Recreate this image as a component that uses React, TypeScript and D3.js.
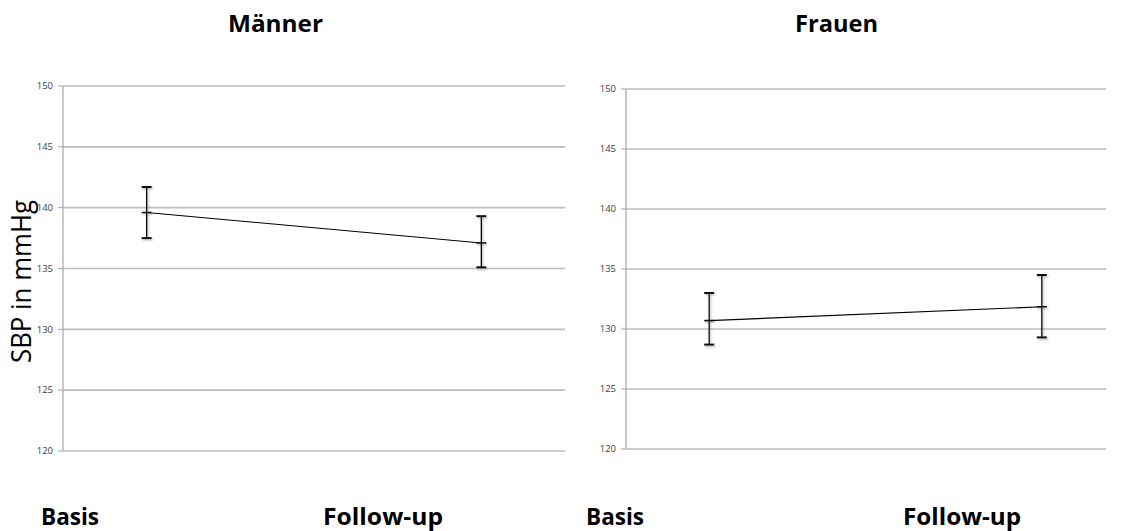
import React from "react";
import * as d3 from "d3";

// ---- data ----
const categories = ["Basis", "Follow-up"];
const panelTitles = ["Männer", "Frauen"];
const menMean = [139.6, 137.1];
const menUpper = [141.7, 139.3];
const menLower = [137.5, 135.1];
const womenMean = [130.7, 131.85];
const womenUpper = [133.0, 134.5];
const womenLower = [128.7, 129.3];
const yTicks = [120, 125, 130, 135, 140, 145, 150];
const yLabel = "SBP in mmHg";

const W = 1121;
const H = 531;

type Panel = {
  title: string;
  mean: number[];
  upper: number[];
  lower: number[];
  left: number;
  right: number;
  gridRight: number;
  top: number;
  bottom: number;
  titleX: number;
  titleLen: number;
  catX: number[];
  catLen: number[];
};

const panels: Panel[] = [
  {
    title: panelTitles[0],
    mean: menMean,
    upper: menUpper,
    lower: menLower,
    left: 63,
    right: 565,
    gridRight: 565,
    top: 86,
    bottom: 451,
    titleX: 228,
    titleLen: 95,
    catX: [41, 323],
    catLen: [58, 120],
  },
  {
    title: panelTitles[1],
    mean: womenMean,
    upper: womenUpper,
    lower: womenLower,
    left: 626,
    right: 1125,
    gridRight: 1106,
    top: 89,
    bottom: 449,
    titleX: 795,
    titleLen: 83,
    catX: [586, 903],
    catLen: [58, 118],
  },
];

const titleFont = "'Open Sans', 'DejaVu Sans', sans-serif";

function PanelView({ p }: { p: Panel }) {
  const y = d3.scaleLinear().domain([120, 150]).range([p.bottom, p.top]);
  const x = d3.scalePoint<string>().domain(categories).range([p.left, p.right]).padding(0.25);
  const line = d3
    .line<number>()
    .x((_, i) => x(categories[i]) as number)
    .y((d) => y(d));
  const capW = 10;
  return (
    <g>
      <text
        x={p.titleX}
        y={32}
        fontFamily={titleFont}
        fontWeight="bold"
        fontSize={23}
        textLength={p.titleLen}
        lengthAdjust="spacingAndGlyphs"
        fill="#000"
      >
        {p.title}
      </text>
      {yTicks.map((t) => (
        <g key={t}>
          <line x1={p.left} x2={p.gridRight} y1={y(t)} y2={y(t)} stroke="#bdbdbd" strokeWidth={1.6} />
          <line x1={p.left - 5} x2={p.left} y1={y(t)} y2={y(t)} stroke="#a6a6a6" strokeWidth={1} />
          <text
            x={p.left - 10}
            y={y(t)}
            dy="0.35em"
            textAnchor="end"
            fontFamily={titleFont}
            fontSize={9.5}
            fill="#404040"
          >
            {t}
          </text>
        </g>
      ))}
      <line x1={p.left} x2={p.left} y1={p.top} y2={p.bottom} stroke="#a6a6a6" strokeWidth={1.2} />
      <path d={line(p.mean) || ""} fill="none" stroke="#000" strokeWidth={1.1} />
      <g filter="url(#shadow)">
        {categories.map((c, i) => {
          const cx = x(c) as number;
          return (
            <g key={c}>
              <line x1={cx} x2={cx} y1={y(p.upper[i])} y2={y(p.lower[i])} stroke="#111" strokeWidth={1.4} />
              <line x1={cx - capW / 2} x2={cx + capW / 2} y1={y(p.upper[i])} y2={y(p.upper[i])} stroke="#111" strokeWidth={2} />
              <line x1={cx - capW / 2} x2={cx + capW / 2} y1={y(p.lower[i])} y2={y(p.lower[i])} stroke="#111" strokeWidth={2} />
              <line x1={cx - capW / 2} x2={cx + capW / 2} y1={y(p.mean[i])} y2={y(p.mean[i])} stroke="#111" strokeWidth={1.6} />
            </g>
          );
        })}
      </g>
      {categories.map((c, i) => (
        <text
          key={c}
          x={p.catX[i]}
          y={525}
          fontFamily={titleFont}
          fontWeight="bold"
          fontSize={23}
          textLength={p.catLen[i]}
          lengthAdjust="spacingAndGlyphs"
          fill="#000"
        >
          {c}
        </text>
      ))}
    </g>
  );
}

export default function App() {
  return (
    <svg
      width={W}
      height={H}
      viewBox={`0 0 ${W} ${H}`}
      style={{ position: "absolute", left: 0, top: 0, display: "block", background: "#fff" }}
    >
      <defs>
        <filter id="shadow" x="-50%" y="-50%" width="200%" height="200%">
          <feDropShadow dx={1} dy={1.2} stdDeviation={0.8} floodColor="#777" floodOpacity={0.6} />
        </filter>
      </defs>
      <rect x={0} y={0} width={W} height={H} fill="#fff" />
      {panels.map((p) => (
        <PanelView key={p.title} p={p} />
      ))}
      <text
        transform="translate(31, 281.5) rotate(-90)"
        textAnchor="middle"
        fontFamily={titleFont}
        fontSize={28}
        textLength={163}
        lengthAdjust="spacingAndGlyphs"
        fill="#000"
      >
        {yLabel}
      </text>
    </svg>
  );
}
